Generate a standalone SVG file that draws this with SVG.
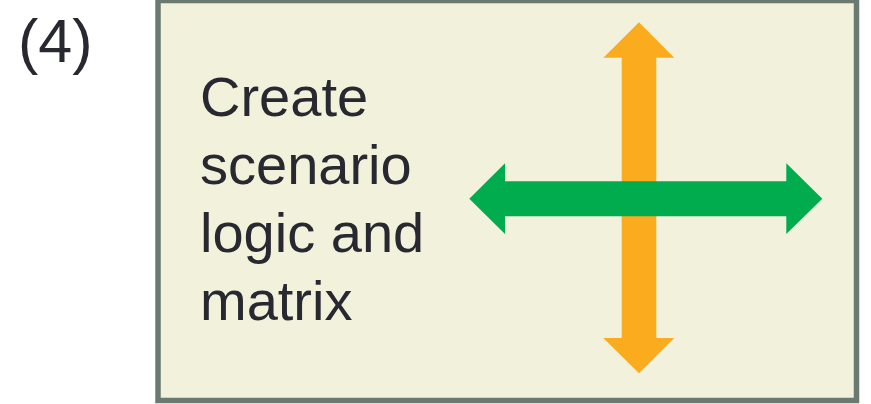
<svg xmlns="http://www.w3.org/2000/svg" width="871" height="404" viewBox="0 0 871 404">
<style>
.t{font-family:"Liberation Sans",Arial,sans-serif;fill:#282830}
</style>
<rect width="871" height="404" fill="#ffffff"/>
<text class="t" x="18" y="62" font-size="61">(4)</text>
<g id="box">
<rect x="158" y="0.5" width="698.5" height="400" fill="#f2f1dc" stroke="#6b7a70" stroke-width="5.5"/>
<text class="t" font-size="56"><tspan x="200" y="116">Create</tspan><tspan x="200" y="183.5">scenario</tspan><tspan x="200" y="251.5">logic and</tspan><tspan x="200" y="319.5">matrix</tspan></text>
</g>
<g id="connectors">
<polygon id="vertical" fill="#fbab1e" points="639,22.3 674.3,57.7 656.3,57.7 656.3,338 674.3,338 639,373.3 603.3,338 621.7,338 621.7,57.7 603.3,57.7"/>
<polygon id="horizontal" fill="#00ac4e" points="469.3,198.8 505,163.3 505,181.3 786.3,181.3 786.3,163.3 822.3,198.8 786.3,234 786.3,216.3 505,216.3 505,234"/>
</g>
</svg>
